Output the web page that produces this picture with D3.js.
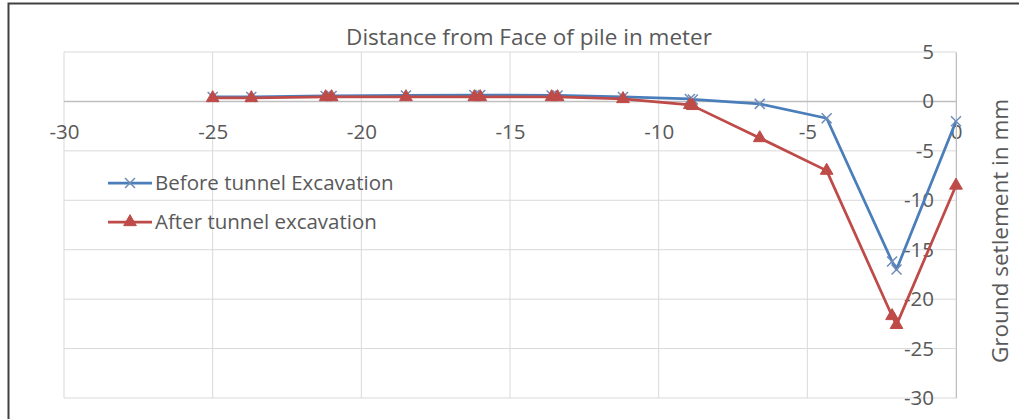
<!DOCTYPE html>
<html>
<head>
<meta charset="utf-8">
<script src="https://cdn.jsdelivr.net/npm/d3@7"></script>
<style>
  body { margin: 0; background: #fff; }
  svg text { font-family: "Open Sans", sans-serif; fill: #595959; }
</style>
</head>
<body>
<div id="chart"></div>
<script>
// distances from face of pile (m)
const Distance = [-25, -23.7, -21.2, -21.0, -18.5, -16.2, -16.0, -13.6, -13.4, -11.2, -8.95, -8.85, -6.6, -4.35, -2.15, -2.0, 0];
// settlement (mm)
const Before = [0.45, 0.45, 0.55, 0.55, 0.6, 0.65, 0.65, 0.6, 0.6, 0.45, 0.25, 0.2, -0.25, -1.7, -16.2, -17.0, -2.0];
const After  = [0.35, 0.35, 0.45, 0.45, 0.45, 0.45, 0.45, 0.45, 0.45, 0.25, -0.35, -0.45, -3.7, -7.0, -21.7, -22.6, -8.5];

const XTicks = [-30, -25, -20, -15, -10, -5, 0];
const YTicks = [5, 0, -5, -10, -15, -20, -25, -30];

const SeriesNames = ["Before tunnel Excavation", "After tunnel excavation"];

const ColorBefore = "#4a7ebb";
const ColorAfter  = "#be4b48";

const width = 1019, height = 419;
const plotLeft = 64, plotRight = 956, plotTop = 52, plotBottom = 398;

const svg = d3.select("#chart").append("svg")
    .attr("width", width)
    .attr("height", height);

// outer frame
svg.append("path")
    .attr("d", `M8.5,${height} V3.5 H${width}`)
    .attr("fill", "none")
    .attr("stroke", "#404040")
    .attr("stroke-width", 2);

const x = d3.scaleLinear().domain([-30, 0]).range([plotLeft, plotRight]);
const y = d3.scaleLinear().domain([-30, 5]).range([plotBottom, plotTop]);

// gridlines
svg.append("g").selectAll("line")
    .data(XTicks).enter().append("line")
        .attr("x1", d => x(d)).attr("x2", d => x(d))
        .attr("y1", plotTop).attr("y2", plotBottom)
        .attr("stroke", "#d9d9d9");

svg.append("g").selectAll("line")
    .data(YTicks).enter().append("line")
        .attr("x1", plotLeft).attr("x2", plotRight)
        .attr("y1", d => y(d)).attr("y2", d => y(d))
        .attr("stroke", d => d === 0 ? "#bfbfbf" : "#d9d9d9")
        .attr("stroke-width", d => d === 0 ? 1.5 : 1);

// axes crossing at zero (plain hyphen minus like the original)
const fmt = d => String(d);

const xAxis = d3.axisBottom(x).tickValues(XTicks).tickFormat(fmt).tickSize(0).tickPadding(23);
const gx = svg.append("g")
    .attr("transform", `translate(0,${y(0)})`)
    .call(xAxis);
gx.select(".domain").remove();
gx.selectAll("text")
    .attr("font-size", 20.5)
    .attr("font-family", "Open Sans, sans-serif")
    .style("fill", "#595959");

const yAxis = d3.axisLeft(y).tickValues(YTicks).tickFormat(fmt).tickSize(0).tickPadding(22);
const gy = svg.append("g")
    .attr("transform", `translate(${x(0)},0)`)
    .call(yAxis);
gy.select(".domain").attr("stroke", "#bfbfbf");
gy.selectAll("text")
    .attr("font-size", 20.5)
    .attr("font-family", "Open Sans, sans-serif")
    .style("fill", "#595959");

// titles
svg.append("text")
    .attr("x", 529).attr("y", 45)
    .attr("text-anchor", "middle")
    .attr("font-size", 22.5)
    .text("Distance from Face of pile in meter");

svg.append("text")
    .attr("transform", "translate(1008,231) rotate(-90)")
    .attr("text-anchor", "middle")
    .attr("font-size", 22.5)
    .text("Ground setlement in mm");

// series
const line = d3.line()
    .x(d => x(d[0]))
    .y(d => y(d[1]));

const beforeData = Distance.map((d, i) => [d, Before[i]]);
const afterData  = Distance.map((d, i) => [d, After[i]]);

function drawCross(g, cx, cy) {
    const s = 5;
    g.append("path")
        .attr("d", `M${cx - s},${cy - s}L${cx + s},${cy + s}M${cx - s},${cy + s}L${cx + s},${cy - s}`)
        .attr("stroke", "#6f8db8")
        .attr("stroke-width", 1.5)
        .attr("fill", "none");
}

function drawTriangle(g, cx, cy) {
    g.append("path")
        .attr("d", d3.symbol(d3.symbolTriangle, 70)())
        .attr("transform", `translate(${cx},${cy})`)
        .attr("fill", ColorAfter)
        .attr("stroke", ColorAfter)
        .attr("stroke-width", 1);
}

svg.append("path")
    .datum(beforeData)
    .attr("d", line)
    .attr("fill", "none")
    .attr("stroke", ColorBefore)
    .attr("stroke-width", 2.75)
    .attr("stroke-linejoin", "round");

const gb = svg.append("g");
beforeData.forEach(d => drawCross(gb, x(d[0]), y(d[1])));

svg.append("path")
    .datum(afterData)
    .attr("d", line)
    .attr("fill", "none")
    .attr("stroke", ColorAfter)
    .attr("stroke-width", 2.75)
    .attr("stroke-linejoin", "round");

const ga = svg.append("g");
afterData.forEach(d => drawTriangle(ga, x(d[0]), y(d[1])));

// legend
const legend = svg.append("g");
[0, 1].forEach(i => {
    const ly = 183 + i * 39;
    const color = i === 0 ? ColorBefore : ColorAfter;
    legend.append("line")
        .attr("x1", 108).attr("x2", 152)
        .attr("y1", ly).attr("y2", ly)
        .attr("stroke", color)
        .attr("stroke-width", 2.75);
    if (i === 0) drawCross(legend, 130, ly);
    else drawTriangle(legend, 130, ly);
    legend.append("text")
        .attr("x", 155).attr("y", ly)
        .attr("dy", "0.35em")
        .attr("font-size", 20.5)
        .text(SeriesNames[i]);
});
</script>
</body>
</html>
